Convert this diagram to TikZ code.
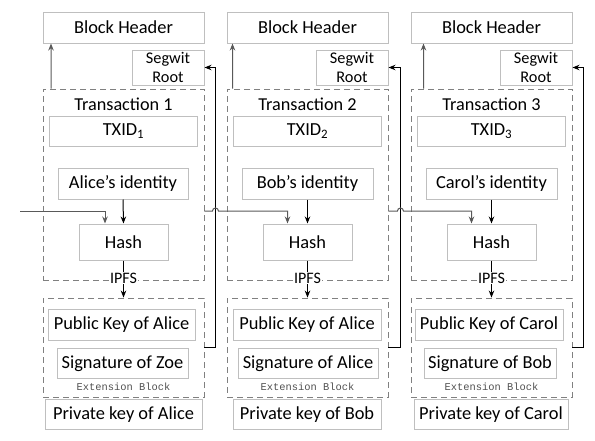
\documentclass[tikz,border=0pt]{standalone}
\usepackage{fontspec}
\setmainfont{Carlito}
\newfontfamily\extfont{Liberation Mono}
\usetikzlibrary{arrows.meta}
\definecolor{boxgray}{RGB}{191,191,191}
\definecolor{dashgray}{RGB}{128,128,128}
\definecolor{arrowgray}{RGB}{89,89,89}
\definecolor{labelgray}{RGB}{80,80,80}

\begin{document}
\begin{tikzpicture}[
        x=1pt, y=-1pt,
        block/.style={rectangle, draw=boxgray, fill=white, line width=1pt, inner sep=0pt, minimum height=31pt, text centered, font=\fontsize{18.4}{20}\selectfont},
        segwit/.style={block, minimum width=72pt, minimum height=35pt, align=center, font=\fontsize{16.3}{19.5}\selectfont},
        group/.style={rectangle, draw=dashgray, dash pattern=on 6pt off 4pt, line width=0.9pt, minimum width=161pt, inner sep=0pt},
        title/.style={font=\fontsize{18.2}{20}\selectfont, inner sep=0pt},
        extlabel/.style={font=\extfont\fontsize{10.4}{12}\selectfont, text=labelgray, inner sep=0pt},
        ipfs/.style={font=\fontsize{16}{18}\selectfont, fill=white, inner sep=1pt},
        arrow/.style={->, >={Stealth[length=7pt, width=5.5pt]}, line width=1pt, color=black},
        greyarrow/.style={arrow, color=arrowgray}
    ]

        \useasboundingbox (0,0) rectangle (595,440);

        % ========== BLOCK 1 ==========
        \node[group, minimum height=191pt] (trans1) at (123.5,184.5) {};
        \node[group, minimum height=99pt] (ext1) at (123.5,347.5) {};
        \node[block, minimum width=161pt] (header1) at (123.5,27.5) {Block Header};
        \node[segwit] (segwit1) at (168,67.5) {Segwit\\Root};
        \node[title] at (123.5,104) {Transaction 1};
        \node[block, minimum width=148pt, minimum height=30pt] (txid1) at (123.5,131) {TXID\textsubscript{1}};
        \node[block, minimum width=130pt] (ident1) at (123,183.5) {Alice’s identity};
        \node[block, minimum width=89pt, minimum height=36pt] (hash1) at (123.5,242) {Hash};
        \node[block, minimum width=147pt] (pub1) at (121.5,325) {Public Key of Alice};
        \node[block, minimum width=131pt, minimum height=30pt] (sig1) at (122.5,363.5) {Signature of Zoe};
        \node[extlabel] at (123.5,387) {Extension Block};
        \node[block, minimum width=157pt, minimum height=30pt] (priv1) at (123.5,414.5) {Private key of Alice};

        % ========== BLOCK 2 ==========
        \node[group, minimum height=191pt] (trans2) at (307.5,184.5) {};
        \node[group, minimum height=99pt] (ext2) at (307.5,347.5) {};
        \node[block, minimum width=161pt] (header2) at (307.5,27.5) {Block Header};
        \node[segwit] (segwit2) at (352,67.5) {Segwit\\Root};
        \node[title] at (307.5,104) {Transaction 2};
        \node[block, minimum width=148pt, minimum height=30pt] (txid2) at (307.5,131) {TXID\textsubscript{2}};
        \node[block, minimum width=131pt] (ident2) at (307.5,183.5) {Bob’s identity};
        \node[block, minimum width=89pt, minimum height=36pt] (hash2) at (307.5,242) {Hash};
        \node[block, minimum width=148pt] (pub2) at (307,325) {Public Key of Alice};
        \node[block, minimum width=140pt, minimum height=30pt] (sig2) at (308,363.5) {Signature of Alice};
        \node[extlabel] at (307.5,387) {Extension Block};
        \node[block, minimum width=148pt, minimum height=30pt] (priv2) at (307,414.5) {Private key of Bob};

        % ========== BLOCK 3 ==========
        \node[group, minimum height=191pt] (trans3) at (491.5,184.5) {};
        \node[group, minimum height=99pt] (ext3) at (491.5,347.5) {};
        \node[block, minimum width=161pt] (header3) at (491.5,27.5) {Block Header};
        \node[segwit] (segwit3) at (536,67.5) {Segwit\\Root};
        \node[title] at (491.5,104) {Transaction 3};
        \node[block, minimum width=148pt, minimum height=30pt] (txid3) at (491.5,131) {TXID\textsubscript{3}};
        \node[block, minimum width=131pt] (ident3) at (491.5,183.5) {Carol’s identity};
        \node[block, minimum width=89pt, minimum height=36pt] (hash3) at (491.5,242) {Hash};
        \node[block, minimum width=148pt] (pub3) at (489,325) {Public Key of Carol};
        \node[block, minimum width=132pt, minimum height=30pt] (sig3) at (490,363.5) {Signature of Bob};
        \node[extlabel] at (491.5,387) {Extension Block};
        \node[block, minimum width=154pt, minimum height=30pt] (priv3) at (491,414.5) {Private key of Carol};

        % ========== TRANSACTIONS TO HEADERS ==========
        \draw[greyarrow] ([xshift=8.5pt]trans1.north west) -- ([xshift=8.5pt]header1.south west);
        \draw[greyarrow] ([xshift=6pt]trans2.north west) -- ([xshift=6pt]header2.south west);
        \draw[greyarrow] ([xshift=13pt]trans3.north west) -- ([xshift=13pt]header3.south west);

        % ========== IDENTITY -> HASH -> EXTENSION ==========
        \draw[arrow] (ident1.south) -- (hash1.north);
        \draw[arrow] (ident2.south) -- (hash2.north);
        \draw[arrow] (ident3.south) -- (hash3.north);
        \draw[arrow] (hash1.south) -- node[ipfs, pos=0.47] {IPFS} (ext1.north);
        \draw[arrow] (hash2.south) -- node[ipfs, pos=0.47] {IPFS} (ext2.north);
        \draw[arrow] (hash3.south) -- node[ipfs, pos=0.47] {IPFS} (ext3.north);

        % ========== EXTENSION BLOCKS TO SEGWIT ROOTS ==========
        \draw[arrow] (ext1.east) -- ++(11,0) |- (segwit1.east);
        \draw[arrow] (ext2.east) -- ++(12,0) |- (segwit2.east);
        \draw[arrow] (ext3.east) -- ++(11,0) |- (segwit3.east);

        % ========== CHAIN OF TRANSACTIONS ==========
        \coordinate (input) at (20,211);
        \draw[greyarrow] (input) -| ([xshift=-18.5pt]hash1.north);
        \draw[greyarrow] (trans1.east |- input) -- ++(8,0) arc[start angle=180, end angle=0, radius=3pt] -| ([xshift=-20pt]hash2.north);
        \draw[greyarrow] (trans2.east |- input) -- ++(9,0) arc[start angle=180, end angle=0, radius=3pt] -| ([xshift=-20pt]hash3.north);

    \end{tikzpicture}
\end{document}
